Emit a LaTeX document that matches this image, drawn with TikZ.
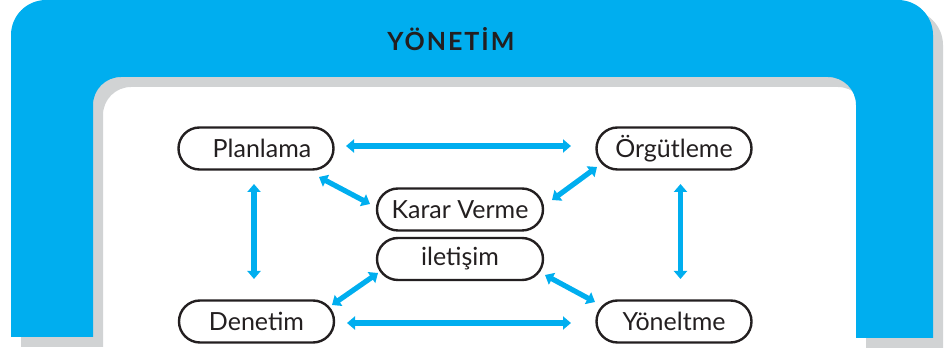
\documentclass[tikz,border=0pt]{standalone}
\usepackage{fontspec}
\setmainfont{Lato}
\usetikzlibrary{shapes.misc,arrows.meta}
\definecolor{archblue}{HTML}{00AEEF}
\definecolor{archshadow}{HTML}{D1D3D4}
\definecolor{inkblack}{HTML}{231F20}
\tikzset{
  stage/.style={rounded rectangle, draw=inkblack, line width=2.4pt, text=inkblack,
    minimum width=155pt, minimum height=42pt, inner sep=0pt, font=\fontsize{25}{28}\selectfont},
  wide/.style={stage, minimum width=166pt},
  link/.style={draw=archblue, line width=5.2pt,
    {Triangle[width=13pt,length=8pt]}-{Triangle[width=13pt,length=8pt]}}
}
\begin{document}
\begin{tikzpicture}[x=1pt,y=1pt]
\useasboundingbox (0,0) rectangle (946,350);
% arch outline: shadow first, then the blue band
\def\archpath{(11,13) -- (11,315) arc[start angle=180,end angle=90,radius=35]
  -- (898,350) arc[start angle=90,end angle=0,radius=35]
  -- (933,12) -- (856,12) -- (856,245) arc[start angle=0,end angle=90,radius=28]
  -- (121,273) arc[start angle=90,end angle=180,radius=28] -- (93,13) -- cycle}
\fill[archshadow, shift={(10,-10)}] \archpath;
\fill[archblue] \archpath;
\node[text=inkblack, font=\bfseries\fontsize{25}{28}\selectfont\addfontfeature{LetterSpace=8}] (title) at (451,311) {YÖNETİM};

% stages
\node[stage] (plan) at (256,201.5) {\hspace*{12pt}Planlama};
\node[stage] (org)  at (674,201.5) {Örgütleme};
\node[stage] (den)  at (256.5,28.5) {Denetim};
\node[stage] (yon)  at (674,28.5) {Yöneltme};
\node[wide]  (karar) at (460,140.5) {Karar Verme};
\node[wide]  (ilet)  at (460,91) {iletişim};

% connectors
\draw[link] ([shift={(90,2.5)}]plan.center) -- ([shift={(-103,2.5)}]org.center);
\draw[link] ([shift={(90.5,-1.5)}]den.center) -- ([shift={(-103,-1.5)}]yon.center);
\draw[link] ([shift={(-2,-35.5)}]plan.center) -- ([shift={(-2.5,42.5)}]den.center);
\draw[link] ([shift={(6.5,-35.5)}]org.center) -- ([shift={(6.5,42.5)}]yon.center);
\draw[link] ([shift={(63,-28.5)}]plan.center) -- ([shift={(-90,5.5)}]karar.center);
\draw[link] ([shift={(-77,-18.5)}]org.center) -- ([shift={(92,9.5)}]karar.center);
\draw[link] ([shift={(75.5,16.5)}]den.center) -- ([shift={(-82,-14)}]ilet.center);
\draw[link] ([shift={(-79,19.5)}]yon.center) -- ([shift={(85,-16)}]ilet.center);
\end{tikzpicture}
\end{document}
